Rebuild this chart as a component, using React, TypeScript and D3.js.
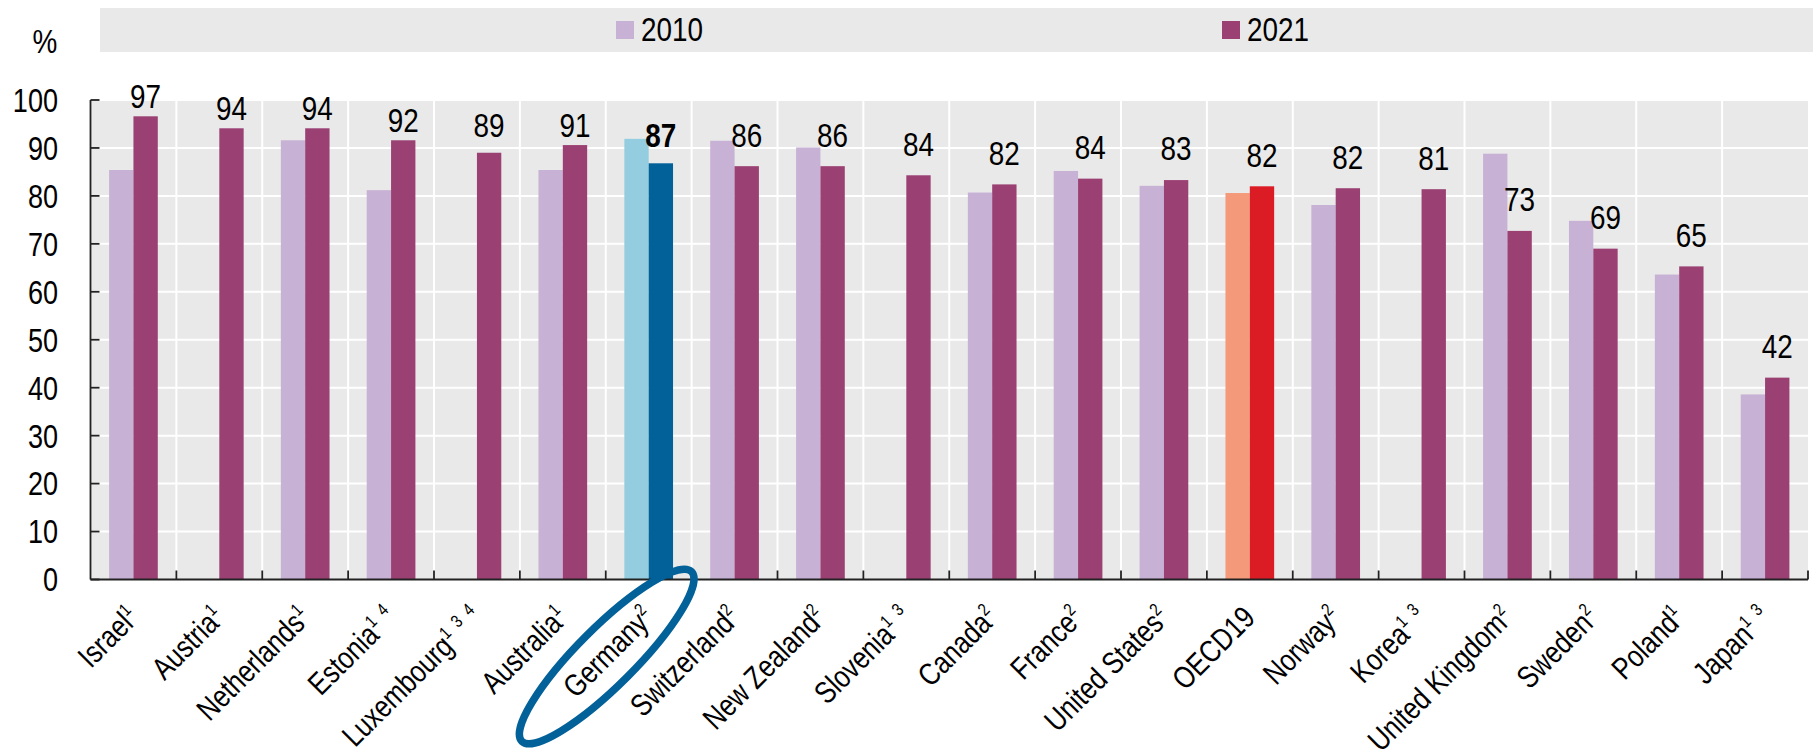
import React from "react";
import * as d3 from "d3";

const categories = ["Israel", "Austria", "Netherlands", "Estonia", "Luxembourg", "Australia", "Germany", "Switzerland", "New Zealand", "Slovenia", "Canada", "France", "United States", "OECD19", "Norway", "Korea", "United Kingdom", "Sweden", "Poland", "Japan"];
const notes = ["1", "1", "1", "1 4", "1 3 4", "1", "2", "2", "2", "1 3", "2", "2", "2", "", "2", "1 3", "2", "2", "1", "1 3"];
const values2010: (number | null)[] = [85.4, null, 91.6, 81.2, null, 85.4, 91.9, 91.5, 90.1, null, 80.7, 85.2, 82.1, 80.6, 78.1, null, 88.8, 74.8, 63.6, 38.6];
const values2021: number[] = [96.6, 94.1, 94.1, 91.6, 89.0, 90.6, 86.8, 86.2, 86.2, 84.3, 82.4, 83.6, 83.3, 82.0, 81.6, 81.4, 72.7, 69.0, 65.3, 42.1];
const series = ["2010", "2021"];
const yTicks = [0, 10, 20, 30, 40, 50, 60, 70, 80, 90, 100];

const W = 1820, H = 754;
const SANS = "'Liberation Sans', Arial, sans-serif";
const NARROW_X = 0.82;

const colors: Record<string, [string, string]> = {
  default: ["#C7B1D5", "#9A4073"],
  Germany: ["#93CDDF", "#036199"],
  OECD19: ["#F4997A", "#DC1C24"],
};

function NText(props: { x: number; y: number; size: number; anchor?: string; bold?: boolean; dy?: string; children: React.ReactNode }) {
  const { x, y, size, anchor = "start", bold = false, dy, children } = props;
  return (
    <text transform={`translate(${x},${y}) scale(${NARROW_X},1)`} dy={dy} textAnchor={anchor} fontFamily={SANS}
      fontSize={size} fontWeight={bold ? "bold" : "normal"} fill="#000">
      {children}
    </text>
  );
}

export default function App() {
  const left = 90.5, right = 1808, top = 100, bottom = 579.5;
  const x = d3.scaleBand<string>().domain(categories).range([left, right]).padding(0);
  const bw = x.bandwidth();
  const inner = d3.scaleBand<string>().domain(series).range([bw * 0.2165, bw * 0.7835]).padding(0);
  const y = d3.scaleLinear().domain([0, 100]).range([bottom, top]);
  const boundaries = categories.map((c) => x(c)!).concat([right]);

  const labelGap = (v: number) => (v > 90 ? 1.7 : v > 86.5 ? 3.3 : 4.1);

  const gx = x("Germany")! + bw / 2;

  return (
    <svg width={W} height={H} style={{ position: "absolute", left: 0, top: 0, background: "#fff" }}>
      {/* legend */}
      <rect x={100} y={8} width={1713} height={44} fill="#E9E9E9" />
      <rect x={616} y={21} width={18} height={18} fill={colors.default[0]} />
      <NText x={641} y={41} size={34}>2010</NText>
      <rect x={1222} y={21} width={18} height={18} fill={colors.default[1]} />
      <NText x={1247} y={41} size={34}>2021</NText>

      <NText x={45} y={53} size={34} anchor="middle">%</NText>

      {/* plot background */}
      <rect x={left} y={top} width={right - left} height={bottom - top} fill="#E9E9E9" />
      {yTicks.filter((t) => t > 0).map((t) => (
        <line key={"hg" + t} x1={left} x2={right} y1={y(t)} y2={y(t)} stroke="#fff" strokeWidth={2} />
      ))}
      {boundaries.slice(1, -1).map((b, i) => (
        <line key={"vg" + i} x1={b} x2={b} y1={top} y2={bottom} stroke="#fff" strokeWidth={2} />
      ))}

      {/* bars */}
      {categories.map((c, i) => {
        const col = colors[c] || colors.default;
        const v10 = values2010[i];
        const v21 = values2021[i];
        const x0 = x(c)!;
        return (
          <g key={c}>
            {v10 != null && (
              <rect x={x0 + inner("2010")!} y={y(v10)} width={inner.bandwidth()} height={y(0) - y(v10)} fill={col[0]} />
            )}
            <rect x={x0 + inner("2021")!} y={y(v21)} width={inner.bandwidth()} height={y(0) - y(v21)} fill={col[1]} />
          </g>
        );
      })}

      {/* value labels */}
      {categories.map((c, i) => {
        const v21 = values2021[i];
        const cx = x(c)! + inner("2021")! + inner.bandwidth() / 2;
        return (
          <NText key={"vl" + c} x={cx} y={y(v21 + labelGap(v21))} size={34} anchor="middle" bold={c === "Germany"}>
            {d3.format(".0f")(v21)}
          </NText>
        );
      })}

      {/* axes */}
      <line x1={left} x2={left} y1={top} y2={bottom} stroke="#222" strokeWidth={1.8} />
      <line x1={left} x2={right} y1={bottom} y2={bottom} stroke="#222" strokeWidth={1.8} />
      {yTicks.map((t) => (
        <g key={"yt" + t}>
          <line x1={left} x2={left + 9} y1={y(t)} y2={y(t)} stroke="#222" strokeWidth={1.8} />
          <NText x={58} y={y(t)} dy="0.36em" size={33} anchor="end">{t}</NText>
        </g>
      ))}
      {boundaries.slice(1).map((b, i) => (
        <line key={"xt" + i} x1={b} x2={b} y1={bottom} y2={bottom - 9} stroke="#222" strokeWidth={1.8} />
      ))}

      {/* x labels */}
      {categories.map((c, i) => {
        const cx = x(c)! + bw / 2;
        const sups = notes[i] ? notes[i].split(" ") : [];
        return (
          <text key={"xl" + c} transform={`translate(${cx + 7},${bottom + 40}) rotate(-45) scale(${NARROW_X},1)`} textAnchor="end"
            fontFamily={SANS} fontSize={31} fill="#000">
            <tspan>{c}</tspan>
            {sups.map((s, k) => (
              <tspan key={k} fontSize={18} dy={k === 0 ? -12 : 0} dx={k === 0 ? 0 : 10}>{s}</tspan>
            ))}
          </text>
        );
      })}

      {/* highlight ellipse */}
      <ellipse transform={`translate(${gx - 42},${bottom + 77}) rotate(-45)`} rx={120} ry={29} fill="none" stroke="#036199" strokeWidth={7.5} />
    </svg>
  );
}
